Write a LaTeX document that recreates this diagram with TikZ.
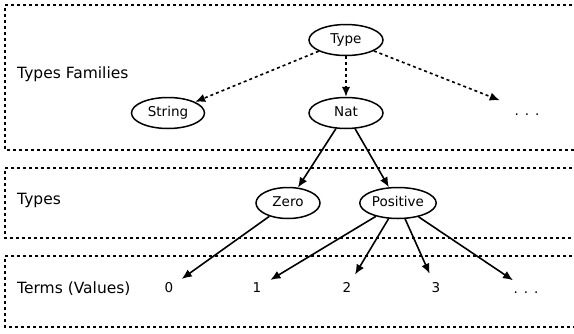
\documentclass[tikz,border=0pt]{standalone}
\usepackage{fontspec}
\setmainfont{DejaVu Sans}
\usetikzlibrary{shapes.geometric,arrows.meta}
\begin{document}
\begin{tikzpicture}[x=1pt,y=-1pt,
  typenode/.style={ellipse,draw,line width=1.5pt,minimum height=31pt,inner sep=1pt,
    text height=9.8pt,text depth=2.6pt,font=\fontsize{13.5}{15}\selectfont},
  ghost/.style={ellipse,minimum width=74pt,minimum height=31pt,inner sep=1pt,
    text height=9.8pt,text depth=0pt,font=\fontsize{13.5}{15}\selectfont},
  termnode/.style={circle,minimum size=31pt,inner sep=0pt,
    text height=9.8pt,text depth=0pt,font=\fontsize{13.5}{15}\selectfont},
  layer/.style={dash pattern=on 3pt off 3pt,line width=1.2pt},
  lbl/.style={anchor=base west,font=\fontsize{15.5}{18}\selectfont,inner sep=0pt},
  famarrow/.style={dash pattern=on 3pt off 3pt,line width=1.6pt,-{Latex[length=10pt,width=8.5pt]}},
  arr/.style={line width=1.6pt,-{Latex[length=10pt,width=8.5pt]}}]
\useasboundingbox (0,0) rectangle (574,333);
\clip (0,0) rectangle (574,333);
% layers
\draw[layer] (590,5) -- (5,5) -- (5,150) -- (590,150);
\draw[layer] (590,168) -- (5,168) -- (5,238) -- (590,238);
\draw[layer] (590,256) -- (5,256) -- (5,327) -- (590,327);
% layer labels
\node[lbl] (lfam) at (17,78) {Types Families};
\node[lbl] (ltypes) at (17,204) {Types};
\node[lbl] (lterms) at (17,293) {Terms (Values)};
% type nodes
\node[typenode,minimum width=74pt] (type) at (346,40) {Type};
\node[typenode,minimum width=73pt] (string) at (168,113) {String};
\node[typenode,minimum width=74pt] (nat) at (346,113) {Nat};
\node[ghost] (famdots) at (527,111) {.\hspace{6pt}.\hspace{6pt}.};
\node[typenode,minimum width=64pt] (zero) at (288,203) {Zero};
\node[typenode,minimum width=72pt] (pos) at (398,203) {Positive};
% terms
\node[termnode] (t0) at (169,288) {0};
\node[termnode] (t1) at (257,288) {1};
\node[termnode] (t2) at (347,288) {2};
\node[termnode] (t3) at (436,288) {3};
\node[termnode] (tdots) at (526,289) {.\hspace{6pt}.\hspace{6pt}.};
% connectors
\draw[famarrow] (type) -- (string);
\draw[famarrow] (type) -- (nat);
\draw[famarrow] (type) -- (famdots);
\draw[arr] (nat) -- (zero);
\draw[arr] (nat) -- (pos);
\draw[arr] (zero) -- (t0);
\draw[arr] (pos) -- (t1);
\draw[arr] (pos) -- (t2);
\draw[arr] (pos) -- (t3);
\draw[arr] (pos) -- (tdots);
\end{tikzpicture}
\end{document}
